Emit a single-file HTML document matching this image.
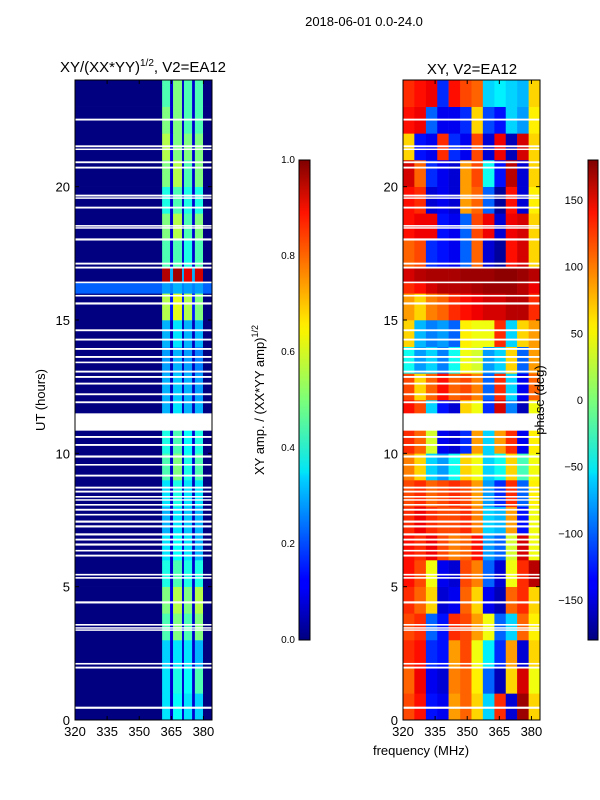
<!DOCTYPE html>
<html><head><meta charset="utf-8"><style>
body{margin:0;background:#fff;}
svg{display:block;font-family:"Liberation Sans",sans-serif;}
</style></head><body>
<svg id="fig" width="600" height="800" viewBox="0 0 600 800">
<defs>
<linearGradient id="jet" x1="0" y1="1" x2="0" y2="0">
<stop offset="0" stop-color="#00007f"/><stop offset="0.11" stop-color="#0000ff"/><stop offset="0.125" stop-color="#0000ff"/>
<stop offset="0.34" stop-color="#00d4ff"/><stop offset="0.35" stop-color="#00e5f7"/><stop offset="0.5" stop-color="#7cff79"/>
<stop offset="0.64" stop-color="#f7f400"/><stop offset="0.66" stop-color="#ffea00"/><stop offset="0.89" stop-color="#ff1300"/>
<stop offset="1" stop-color="#7f0000"/></linearGradient>
</defs>
<text x="364" y="26" font-size="13" text-anchor="middle">2018-06-01 0.0-24.0</text>
<text x="143" y="72" font-size="15" text-anchor="middle">XY/(XX*YY)<tspan font-size="10" dy="-6">1/2</tspan><tspan dy="6">, V2=EA12</tspan></text>
<text x="472" y="74" font-size="15" text-anchor="middle">XY, V2=EA12</text>
<g id="ampPanel"></g>
<g id="phPanel"></g>
<g id="axes"></g>
<text transform="translate(45,400) rotate(-90)" font-size="13" text-anchor="middle">UT (hours)</text>
<text x="421" y="755" font-size="13" text-anchor="middle">frequency (MHz)</text>
<rect x="299" y="160" width="11" height="480" fill="url(#jet)" stroke="#000" stroke-width="1"/>
<rect x="588" y="160" width="10" height="480" fill="url(#jet)" stroke="#000" stroke-width="1"/>
<text transform="translate(264,400) rotate(-90)" font-size="13" text-anchor="middle">XY amp. / (XX*YY amp)<tspan font-size="9" dy="-6">1/2</tspan></text>
<text transform="translate(544,400) rotate(-90)" font-size="13" text-anchor="middle">phase (deg)</text>
</svg>
<script>
const timeEdges=[0,1,2,3,4,5,6,7,8,9,10,11,12,13,14,15,16,16.4,17,18,19,20,21,22,23,24];
const ampFreqEdges=[320,360.7,364.4,365.8,370,370.9,374.7,376,379.8,384];
const ampValues=[
[0,.35,.08,.38,.08,.35,.08,.33,0],[0,.35,.08,.4,.08,.38,.08,.45,0],[0,.33,.08,.35,.08,.35,.08,.3,0],
[0,.45,.1,.5,.1,.45,.08,.5,0],[0,.5,.1,.55,.1,.5,.08,.55,0],[0,.4,.08,.45,.08,.4,.08,.4,0],
[0,.35,.08,.38,.08,.35,.06,.3,0],[0,.3,.06,.35,.06,.32,.06,.3,0],[0,.35,.08,.4,.08,.35,.06,.35,0],
[0,.45,.08,.5,.08,.4,.08,.45,0],[0,.4,.08,.45,.08,.38,.08,.4,0],[0,.3,.06,.35,.06,.3,.06,.3,0],
[0,.3,.06,.32,.06,.3,.06,.28,0],[0,.28,.06,.3,.06,.28,.06,.25,0],[0,.3,.06,.35,.06,.3,.06,.3,0],
[0,.55,.15,.6,.15,.55,.15,.5,0],[.22,.28,.25,.3,.25,.28,.25,.28,.22],[0,.95,.3,.97,.3,.9,.3,.92,0],
[0,.45,.08,.45,.08,.4,.08,.45,0],[0,.5,.08,.55,.08,.45,.08,.5,0],[0,.4,.08,.45,.08,.4,.08,.4,0],
[0,.5,.08,.55,.08,.45,.08,.5,0],[0,.55,.1,.5,.08,.5,.08,.5,0],[0,.5,.08,.5,.08,.45,.08,.45,0],
[0,.45,.08,.5,.08,.45,.08,.45,0]];
const phFreqEdges=[320,325.3,330.7,336,341.3,346.7,352,357.3,362.7,368,373.3,378.7,384];
const phValues=[
[110,130,-130,-140,80,100,60,-60,120,-150,170,60],[100,140,-140,-150,90,100,50,-100,-160,60,150,40],
[120,130,-120,-130,80,110,40,-50,-120,80,-150,60],[110,120,-100,-130,120,110,80,40,-100,-60,100,50],
[120,100,60,-150,-140,100,60,-140,-160,100,120,60],[130,110,40,-140,-150,110,90,-100,-150,40,120,160],
[130,120,140,110,90,100,130,-80,-100,30,150,40],[120,140,120,110,110,120,90,-60,-70,80,-130,40],
[110,120,100,110,120,110,80,-80,-120,120,-100,50],[90,60,-60,-80,-40,60,40,-60,-40,60,-20,40],
[120,100,30,-140,-150,-120,80,-60,80,120,-140,50],[130,110,-60,-130,-150,60,40,-120,150,-90,-160,40],
[110,60,100,130,100,110,90,-100,120,-60,-140,100],[-40,-80,-60,-90,-40,40,30,-80,-60,60,-100,80],
[60,-70,-90,-80,-100,50,40,40,120,-60,60,80],[80,60,90,100,120,130,140,150,150,160,160,120],
[120,130,150,160,160,160,165,170,170,170,160,140],[150,160,165,165,165,170,170,170,175,175,170,160],
[100,110,-120,-130,-140,-100,100,-150,-170,130,150,60],[130,140,140,-130,-140,-100,110,140,-150,140,150,60],
[130,120,-150,-140,-150,80,100,-100,-170,130,-150,50],[150,100,-120,-140,-150,80,110,-40,-130,160,-150,60],
[60,-130,-140,120,-120,-140,110,-150,140,-160,150,60],[130,140,-100,-140,-140,-120,60,-110,-130,-60,-80,50],
[120,130,140,-120,130,110,100,-60,-50,-60,-70,60]];
const gapStarts=[0.42,1.93,2.08,3.35,3.43,3.54,4.37,5.3,5.42,6.13,6.32,6.54,6.73,6.92,7.22,7.4,7.67,7.85,8.04,8.23,8.34,8.53,8.68,9.13,9.54,9.84,10.28,10.58,10.85,11.88,12.18,12.58,12.83,13.03,13.38,13.58,13.88,14.23,14.58,15.58,15.88,16.38,16.93,17.08,17.98,18.43,18.5,19.18,19.55,19.63,20.68,20.88,21.38,21.48,22.48];
const gapEnds=[0.5,2.0,2.14,3.4,3.48,3.6,4.45,5.36,5.48,6.2,6.38,6.62,6.8,7.0,7.3,7.48,7.73,7.92,8.1,8.28,8.4,8.6,8.75,9.2,9.6,9.92,10.35,10.65,11.5,11.95,12.25,12.65,12.9,13.1,13.44,13.65,13.95,14.3,14.65,15.66,15.94,16.44,17.0,17.15,18.06,18.48,18.56,19.25,19.6,19.7,20.75,20.95,21.43,21.55,22.55];
const yTicks=[0,5,10,15,20];
const xTicks=[320,335,350,365,380];
const ampCbTicks=[0.0,0.2,0.4,0.6,0.8,1.0];
const phCbTicks=[-150,-100,-50,0,50,100,150];

const NS='http://www.w3.org/2000/svg';
const Y0=720,Y1=80;
function yScale(h){return Y0-(h/24)*(Y0-Y1);}
function xScaleL(f){return 75+(f-320)/(384-320)*137;}
function xScaleR(f){return 403+(f-320)/(384-320)*137;}
function jet(v){v=Math.max(0,Math.min(1,v));
 const r=Math.min(4*v-1.5,-4*v+4.5),g=Math.min(4*v-0.5,-4*v+3.5),b=Math.min(4*v+0.5,-4*v+2.5);
 const c=x=>Math.round(255*Math.max(0,Math.min(1,x)));return `rgb(${c(r)},${c(g)},${c(b)})`;}
function mk(tag,attrs,parent){const e=document.createElementNS(NS,tag);for(const k in attrs)e.setAttribute(k,attrs[k]);parent.appendChild(e);return e;}
function drawHeat(g,fEdges,vals,xs,norm){
 for(let i=0;i<vals.length;i++){const y1=yScale(timeEdges[i+1]),y0=yScale(timeEdges[i]);
  for(let j=0;j<vals[i].length;j++){const x0=xs(fEdges[j]),x1=xs(fEdges[j+1]);
   const r=mk('rect',{x:x0,y:y1,width:x1-x0+0.3,height:y0-y1+0.3,fill:jet(norm(vals[i][j]))},g);
   
   }}
 for(let k=0;k<gapStarts.length;k++){const ya=yScale(gapEnds[k]),yb=yScale(gapStarts[k]);
  const r=mk('rect',{x:xs(320),y:ya,width:137,height:Math.max(1.5,yb-ya),fill:'#fff'},g);
  
  }}
drawHeat(document.getElementById('ampPanel'),ampFreqEdges,ampValues,xScaleL,v=>v);
drawHeat(document.getElementById('phPanel'),phFreqEdges,phValues,xScaleR,v=>(v+180)/360);
const ax=document.getElementById('axes');
function axisBox(xs,showY,name){
 const x0=xs(320),x1=xs(384);
 const b=mk('rect',{x:x0,y:Y1,width:x1-x0,height:Y0-Y1,fill:'none',stroke:'#000','stroke-width':1},ax);
 
 
 xTicks.forEach(t=>{const x=xs(t);
  mk('line',{x1:x,y1:Y0,x2:x,y2:Y0-4,stroke:'#000'},ax);mk('line',{x1:x,y1:Y1,x2:x,y2:Y1+4,stroke:'#000'},ax);
  const tx=mk('text',{x:x,y:Y0+16,'font-size':13,'text-anchor':'middle'},ax);tx.textContent=t;
  
  });
 yTicks.forEach(t=>{const y=yScale(t);
  mk('line',{x1:x0,y1:y,x2:x0+4,y2:y,stroke:'#000'},ax);mk('line',{x1:x1,y1:y,x2:x1-4,y2:y,stroke:'#000'},ax);
  const tx=mk('text',{x:x0-5,y:y+5,'font-size':13,'text-anchor':'end'},ax);tx.textContent=t;
  
  });}
axisBox(xScaleL,true,'amp-axes');axisBox(xScaleR,true,'phase-axes');
ampCbTicks.forEach(t=>{const y=640-t*480;
 mk('line',{x1:299,y1:y,x2:302,y2:y,stroke:'#000'},ax);mk('line',{x1:310,y1:y,x2:307,y2:y,stroke:'#000'},ax);
 const tx=mk('text',{x:295,y:y+3,'font-size':10,'text-anchor':'end'},ax);tx.textContent=t.toFixed(1);
 
 });
phCbTicks.forEach(t=>{const y=640-(t+180)/360*480;
 mk('line',{x1:588,y1:y,x2:591,y2:y,stroke:'#000'},ax);mk('line',{x1:598,y1:y,x2:595,y2:y,stroke:'#000'},ax);
 const tx=mk('text',{x:583,y:y+4,'font-size':11,'text-anchor':'end'},ax);tx.textContent=(t<0?'\u2212'+(-t):t);
 
 });
</script>
</body></html>
